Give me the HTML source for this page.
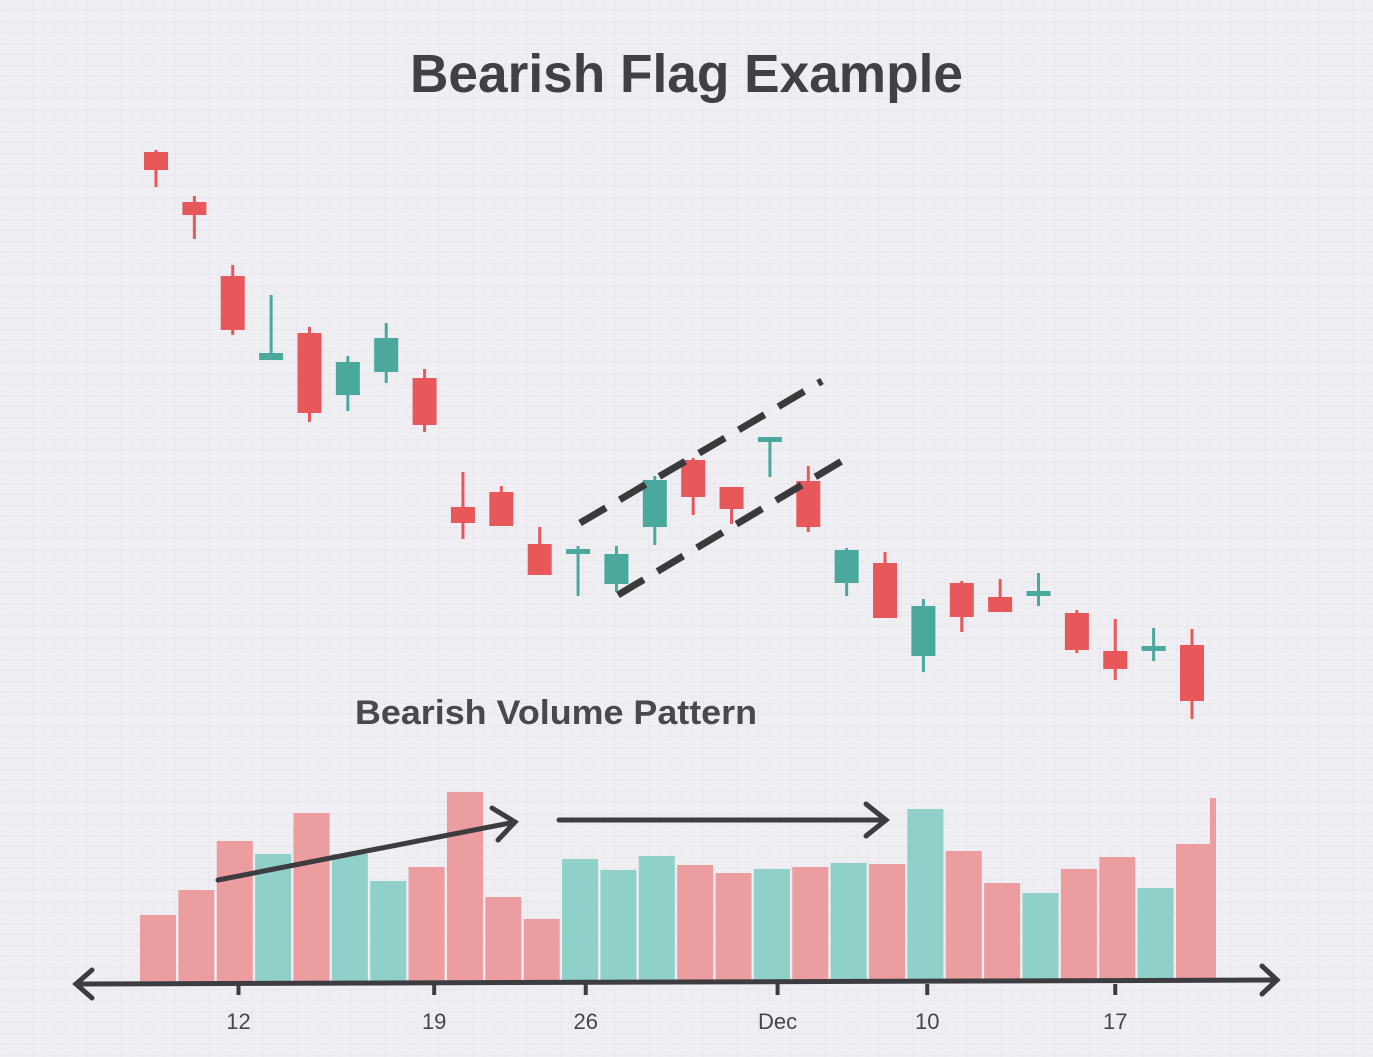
<!DOCTYPE html>
<html><head><meta charset="utf-8"><style>
html,body{margin:0;padding:0;background:#efeff3;}
svg{display:block;font-family:"Liberation Sans",sans-serif;}
</style></head><body>
<svg id="chart" width="1373" height="1057" viewBox="0 0 1373 1057" xmlns="http://www.w3.org/2000/svg">
<defs>
<pattern id="minor" width="11" height="11" patternUnits="userSpaceOnUse">
<path d="M11 0V11M0 11H11" fill="none" stroke="#e2e2e8" stroke-width="1"/>
</pattern>
</defs>
<rect width="1373" height="1057" fill="#efeff3"/>
<rect width="1373" height="1057" fill="url(#minor)"/>
<text x="410" y="92" font-size="54" font-weight="bold" fill="#404046" textLength="553" lengthAdjust="spacingAndGlyphs">Bearish Flag Example</text>
<text x="355" y="724" font-size="34" font-weight="bold" fill="#48484e" textLength="402" lengthAdjust="spacingAndGlyphs">Bearish Volume Pattern</text>
<g id="vol"></g>
<g id="candles"></g>
<g stroke="#3a3a3d" stroke-width="7" stroke-dasharray="30 16" fill="none">
<line x1="580" y1="523" x2="822" y2="381"/>
<line x1="618" y1="595" x2="842" y2="461"/>
</g>
<g stroke="#3d3d41" stroke-width="5" fill="none" stroke-linecap="round">
<line x1="218" y1="880" x2="515" y2="822"/>
<polyline points="492,808 515,822 498,840"/>
<line x1="559" y1="820" x2="886" y2="820"/>
<polyline points="866,804 886,820 866,836"/>
</g>
<g stroke="#3d3d41" stroke-width="5" fill="none" stroke-linecap="round">
<line x1="76" y1="984" x2="1277" y2="980"/>
<polyline points="92,970 76,984 92,998"/>
<polyline points="1262,966 1277,980 1262,994"/>
</g>
<g id="ticks"></g>
</svg>
<script>
const priceHigh = [85.0, 80.4, 73.5, 70.5, 67.3, 64.4, 67.7, 63.1, 52.8, 51.4, 47.3, 45.4, 45.4, 52.4, 54.2, 51.3, 56.3, 53.4, 45.2, 44.8, 40.1, 41.9, 42.1, 42.7, 39.0, 38.1, 37.2, 37.1];
const priceLow  = [81.3, 76.1, 66.5, 64.0, 57.8, 58.9, 61.7, 56.8, 46.1, 47.4, 42.5, 40.4, 40.8, 45.5, 48.5, 47.6, 52.3, 46.8, 40.4, 38.2, 32.8, 36.8, 38.8, 39.4, 34.7, 32.0, 33.9, 28.1];
const priceOpen = [84.8, 79.8, 72.4, 64.0, 66.7, 60.5, 62.8, 62.2, 49.3, 50.8, 45.6, 44.6, 41.6, 47.3, 54.0, 51.3, 55.8, 51.9, 41.7, 43.7, 34.4, 41.7, 40.3, 40.4, 38.7, 34.9, 34.9, 35.5];
const priceClose= [83.0, 78.5, 67.0, 64.7, 58.7, 63.8, 66.2, 57.5, 47.7, 47.4, 42.5, 45.1, 44.6, 52.0, 50.3, 49.1, 56.3, 47.3, 45.0, 38.2, 39.4, 38.3, 38.8, 40.9, 35.0, 33.1, 35.4, 29.9];
const volumes   = [67, 92, 141, 128, 169, 128, 101, 115, 190, 85, 63, 123, 112, 126, 117, 109, 113, 115, 119, 118, 173, 131, 99, 89, 113, 125, 94, 138];
const volUp     = [0,0,0,1,0,1,1,0,0,0,0,1,1,1,0,0,1,0,1,0,1,0,0,1,0,0,1,0];
const tickLabels = ["12", "19", "26", "Dec", "10", "17"];
const tickIndex  = [2.15, 7.25, 11.2, 16.2, 20.1, 25.0];

const NS = "http://www.w3.org/2000/svg";
function xScale(i){ return 156 + i * 38.37; }
function yPrice(p){ return 1000 - p * 10; }
function yVol(v){ return 982 - v; }
function mk(tag, attrs, parent){ const e = document.createElementNS(NS, tag); for (const k in attrs) e.setAttribute(k, attrs[k]); parent.appendChild(e); return e; }

const volG = document.getElementById('vol');
volumes.forEach(function(v, i){
  const cx = xScale(i) + 2;
  const r = mk('rect', {x: cx - 18, y: yVol(v), width: 36, height: v, fill: volUp[i] ? '#8fd0c8' : '#ec9d9f'}, volG);
  
  
});
const sliver = mk('rect', {x: 1210, y: yVol(184), width: 6, height: 184, fill: '#ec9d9f'}, volG);



const cG = document.getElementById('candles');
priceOpen.forEach(function(o, i){
  const c = priceClose[i];
  const up = c > o;
  const col = up ? '#4aa89c' : '#e8585a';
  const cx = xScale(i);
  const g = mk('g', {}, cG);
  
  
  mk('rect', {x: cx - 1.5, y: yPrice(priceHigh[i]), width: 3, height: yPrice(priceLow[i]) - yPrice(priceHigh[i]), fill: col}, g);
  const top = yPrice(Math.max(o, c)), bot = yPrice(Math.min(o, c));
  mk('rect', {x: cx - 12, y: top, width: 24, height: Math.max(bot - top, 4), fill: col}, g);
});

const tG = document.getElementById('ticks');
tickLabels.forEach(function(lab, i){
  const x = xScale(tickIndex[i]);
  const ln = mk('line', {x1: x, y1: 984, x2: x, y2: 995, stroke: '#3d3d41', 'stroke-width': 4}, tG);
  
  
  const t = mk('text', {x: x, y: 1029, 'text-anchor': 'middle', 'font-size': 22, fill: '#45454a'}, tG);
  t.textContent = lab;
  
  
});
</script>
</body></html>
